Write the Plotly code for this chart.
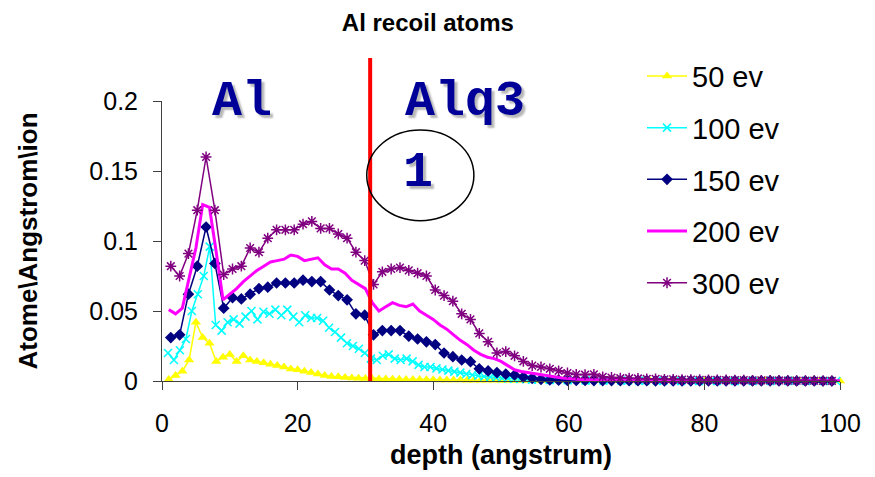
import plotly.graph_objects as go

# ---------------- data ----------------
depth_50 = list(range(1, 101))                      # 1 A bins
ev50 = [0.001, 0.004, 0.007, 0.015, 0.042, 0.031, 0.027, 0.014, 0.017, 0.019,
        0.014, 0.018, 0.015, 0.014, 0.013, 0.012, 0.011, 0.010, 0.0085, 0.008,
        0.007, 0.006, 0.005, 0.004, 0.0032, 0.003, 0.0025, 0.0022, 0.002, 0.0018,
        0.0016, 0.0015, 0.0014, 0.0013, 0.0012, 0.0011, 0.001, 0.001, 0.0009, 0.0009,
        0.0008, 0.0008, 0.0007, 0.0007, 0.0006, 0.0006, 0.0005, 0.0005, 0.0005, 0.0004,
        0.0004, 0.0004, 0.0004, 0.0003, 0.0003, 0.0003, 0.0003, 0.0003, 0.0002, 0.0002,
        0.0002, 0.0002, 0.0002, 0.0002, 0.0002, 0.0001, 0.0001, 0.0001, 0.0001, 0.0001,
        0.0001, 0.0001, 0.0001, 0.0001, 0.0001, 0.0001, 0.0001, 0.0001, 0.0001, 0.0001,
        0.0001, 0.0001, 0.0001, 0.0001, 0.0001, 0.0001, 0.0001, 0.0001, 0.0001, 0.0001,
        0.0001, 0.0001, 0.0001, 0.0001, 0.0001, 0.0001, 0.0001, 0.0001, 0.0001, 0.0]

depth_100 = [round(0.88 * i, 2) for i in range(1, 114)]   # 0.88 A bins
ev100 = [0.020, 0.015, 0.022, 0.030, 0.050, 0.062, 0.075, 0.096, 0.040, 0.036,
         0.042, 0.044, 0.041, 0.046, 0.050, 0.044, 0.0495, 0.048, 0.051, 0.047,
         0.051, 0.046, 0.042, 0.047, 0.045, 0.045, 0.043, 0.038, 0.035, 0.031,
         0.027, 0.025, 0.023, 0.020, 0.016, 0.015, 0.018, 0.019, 0.016, 0.015,
         0.016, 0.014, 0.0115, 0.010, 0.010, 0.009, 0.0082, 0.0074, 0.0067, 0.006,
         0.005, 0.0043, 0.0038, 0.0032, 0.0028, 0.0024, 0.002, 0.0018, 0.0016, 0.0014,
         0.0012, 0.001, 0.0009, 0.0008, 0.0008, 0.0007, 0.0006, 0.0006, 0.0005, 0.0005,
         0.0004, 0.0004, 0.0004, 0.0003, 0.0003, 0.0003, 0.0003, 0.0002, 0.0002, 0.0002,
         0.0002, 0.0002, 0.0002, 0.0001, 0.0001, 0.0001, 0.0001, 0.0001, 0.0001, 0.0001,
         0.0001, 0.0001, 0.0001, 0.0001, 0.0001, 0.0001, 0.0001, 0.0001, 0.0001, 0.0001,
         0.0001, 0.0001, 0.0001, 0.0001, 0.0001, 0.0001, 0.0001, 0.0, 0.0, 0.0,
         0.0, 0.0, 0.0]

depth_150 = [round(1.3 * k, 1) for k in range(1, 77)]     # 1.3 A bins
ev150 = [0.031, 0.033, 0.062, 0.082, 0.110, 0.084, 0.052, 0.0595, 0.0586, 0.062,
         0.066, 0.067, 0.070, 0.070, 0.070, 0.072, 0.071, 0.071, 0.065, 0.061,
         0.058, 0.048, 0.047, 0.033, 0.036, 0.036, 0.036, 0.032, 0.030, 0.028,
         0.026, 0.020, 0.0174, 0.015, 0.0138, 0.0087, 0.0072, 0.006, 0.0049, 0.0043,
         0.0028, 0.0019, 0.0012, 0.0008, 0.0006, 0.0005, 0.0004, 0.0004, 0.0003, 0.0003,
         0.0003, 0.0002, 0.0002, 0.0002, 0.0002, 0.0001, 0.0001, 0.0001, 0.0001, 0.0001,
         0.0001, 0.0001, 0.0001, 0.0001, 0.0001, 0.0001, 0.0001, 0.0001, 0.0001, 0.0001,
         0.0001, 0.0, 0.0, 0.0, 0.0, 0.0]

depth_200 = list(range(1, 101))
ev200 = [0.051, 0.048, 0.052, 0.074, 0.095, 0.126, 0.124, 0.092, 0.058, 0.062,
         0.066, 0.071, 0.075, 0.079, 0.082, 0.085, 0.086, 0.087, 0.090, 0.089,
         0.086, 0.087, 0.088, 0.083, 0.080, 0.080, 0.077, 0.072, 0.069, 0.066,
         0.056, 0.050, 0.053, 0.056, 0.054, 0.053, 0.055, 0.050, 0.047, 0.044,
         0.040, 0.037, 0.033, 0.029, 0.026, 0.022, 0.019, 0.017, 0.016, 0.014,
         0.011, 0.008, 0.0068, 0.006, 0.0052, 0.0045, 0.0035, 0.003, 0.0022, 0.0018,
         0.0013, 0.001, 0.0009, 0.0008, 0.0007, 0.0006, 0.0006, 0.0005, 0.0005, 0.0004,
         0.0004, 0.0004, 0.0003, 0.0003, 0.0003, 0.0003, 0.0002, 0.0002, 0.0002, 0.0002,
         0.0002, 0.0002, 0.0001, 0.0001, 0.0001, 0.0001, 0.0001, 0.0001, 0.0001, 0.0001,
         0.0001, 0.0001, 0.0001, 0.0001, 0.0001, 0.0001, 0.0001, 0.0001, 0.0001, 0.0001]

depth_300 = [round(1.3 * k, 1) for k in range(1, 77)]
ev300 = [0.082, 0.075, 0.091, 0.122, 0.160, 0.122, 0.076, 0.080, 0.082, 0.095,
         0.092, 0.102, 0.108, 0.108, 0.108, 0.112, 0.114, 0.109, 0.109, 0.105,
         0.102, 0.092, 0.086, 0.069, 0.078, 0.080, 0.081, 0.079, 0.077, 0.075,
         0.065, 0.061, 0.057, 0.048, 0.044, 0.034, 0.028, 0.020, 0.021, 0.018,
         0.014, 0.011, 0.010, 0.0087, 0.0073, 0.0057, 0.0047, 0.0045, 0.0048, 0.003,
         0.0025, 0.002, 0.002, 0.0018, 0.0015, 0.0015, 0.0012, 0.0012, 0.001, 0.001,
         0.0009, 0.0008, 0.0008, 0.0007, 0.0006, 0.0006, 0.0005, 0.0005, 0.0004, 0.0004,
         0.0003, 0.0003, 0.0002, 0.0002, 0.0001, 0.0001]

series_names = ["50 ev", "100 ev", "150 ev", "200 ev", "300 ev"]
interface_depth = 30.7          # Al / Alq3 interface (red line)
region_labels = ["Al", "Alq3", "1"]
title_text = "Al recoil atoms"
x_title = "depth (angstrum)"
y_title = "Atome\\Angstrom\\ion"

# ---------------- styling ----------------
FONT = "Liberation Sans, Arial, sans-serif"
MONO = "Courier New, Liberation Mono, monospace"

fig = go.Figure()

fig.add_trace(go.Scatter(
    x=depth_50, y=ev50, name=series_names[0], mode="lines+markers",
    line=dict(color="#FFFF00", width=1.5),
    marker=dict(symbol="triangle-up", size=9, color="#FFFF00"),
    cliponaxis=False, legendgroup="a"))
fig.add_trace(go.Scatter(
    x=depth_100, y=ev100, name=series_names[1], mode="lines+markers",
    line=dict(color="#00FFFF", width=1.5),
    marker=dict(symbol="x-thin", size=8, color="#00FFFF",
                line=dict(color="#00FFFF", width=1.5)),
    cliponaxis=False, legendgroup="b"))
fig.add_trace(go.Scatter(
    x=depth_150, y=ev150, name=series_names[2], mode="lines+markers",
    line=dict(color="#000080", width=1.5),
    marker=dict(symbol="diamond", size=9, color="#000080"),
    cliponaxis=False, legendgroup="c"))
fig.add_trace(go.Scatter(
    x=depth_200, y=ev200, name=series_names[3], mode="lines",
    line=dict(color="#FF00FF", width=3),
    cliponaxis=False, legendgroup="d"))
fig.add_trace(go.Scatter(
    x=depth_300, y=ev300, name=series_names[4], mode="lines+markers",
    line=dict(color="#800080", width=1.5),
    marker=dict(symbol="asterisk", size=9, color="#800080",
                line=dict(color="#800080", width=1.5)),
    cliponaxis=False, legendgroup="e"))

# interface line and ellipse
fig.add_shape(type="line", xref="x", yref="paper",
              x0=interface_depth, x1=interface_depth, y0=0, y1=1.154,
              line=dict(color="#FF0000", width=4), layer="above")
fig.add_shape(type="circle", xref="x", yref="y",
              x0=30.2, x1=46.0, y0=0.1145, y1=0.1793,
              line=dict(color="black", width=1.5), layer="above")

label_font = dict(family=MONO, size=50, color="#000099", weight="bold",
                  shadow="3px 3px 2px #b8b8b8")
fig.add_annotation(text=region_labels[0], x=11.8, y=1.0, xref="x", yref="paper",
                   yanchor="middle", showarrow=False, font=label_font)
fig.add_annotation(text=region_labels[1], x=44.7, y=1.0, xref="x", yref="paper",
                   yanchor="middle", showarrow=False, font=label_font)
fig.add_annotation(text=region_labels[2], x=37.7, y=0.745, xref="x", yref="paper",
                   yanchor="middle", showarrow=False, font=label_font)

fig.update_layout(
    width=875, height=477,
    margin=dict(l=162, r=35, t=101, b=96),
    paper_bgcolor="white", plot_bgcolor="white",
    font=dict(family=FONT, color="black"),
    title=dict(text=title_text, x=0.489, xanchor="center", y=0.952,
               yanchor="middle", font=dict(family=FONT, size=24, weight="bold")),
    showlegend=True,
    legend=dict(x=0.708, xanchor="left", y=1.18, yanchor="top",
                font=dict(family=FONT, size=29), bgcolor="rgba(0,0,0,0)",
                tracegroupgap=11, traceorder="grouped", itemwidth=40,
                maxheight=420),
    xaxis=dict(range=[0, 100], dtick=20, showgrid=False, zeroline=False,
               showline=True, linecolor="#404040", linewidth=1,
               ticks="outside", ticklen=8, tickcolor="#404040",
               tickfont=dict(family=FONT, size=25), ticklabelstandoff=12,
               title=dict(text=x_title, font=dict(family=FONT, size=27, weight="bold"),
                          standoff=9)),
    yaxis=dict(range=[0, 0.2], dtick=0.05, showgrid=False, zeroline=False,
               showline=True, linecolor="#404040", linewidth=1,
               ticks="outside", ticklen=8, tickcolor="#404040",
               tickfont=dict(family=FONT, size=25), ticklabelstandoff=10,
               title=dict(text=y_title, font=dict(family=FONT, size=26, weight="bold"),
                          standoff=44)),
)

fig.write_html("out.html")
